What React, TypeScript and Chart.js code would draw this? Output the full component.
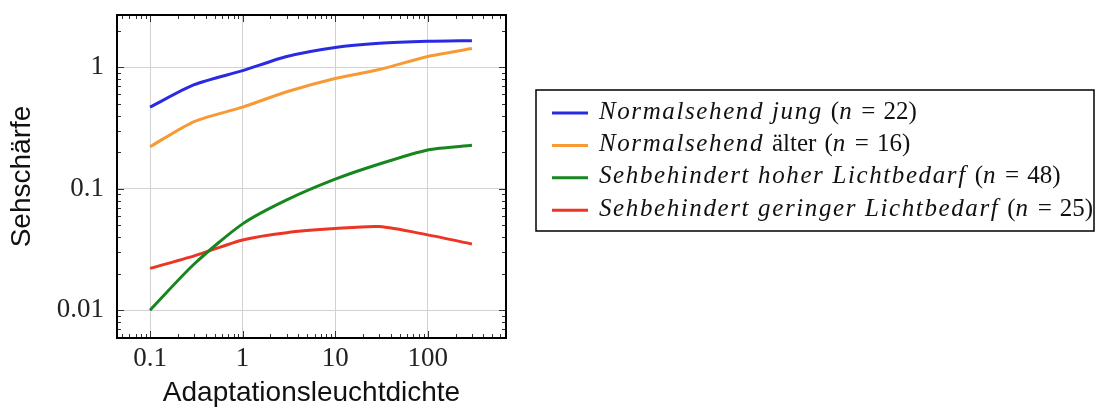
import React, { useEffect, useRef } from 'react';
import { Chart, registerables } from 'chart.js';

Chart.register(...registerables);

// ---- data ----
const luminance = [0.1, 0.3, 1, 3, 10, 30, 100, 300];
const seriesLabels = [
  'Normalsehend jung (n = 22)',
  'Normalsehend älter (n = 16)',
  'Sehbehindert hoher Lichtbedarf (n = 48)',
  'Sehbehindert geringer Lichtbedarf (n = 25)',
];
const normalJung = [0.47, 0.72, 0.94, 1.23, 1.46, 1.58, 1.64, 1.66];
const normalAelter = [0.222, 0.358, 0.47, 0.63, 0.81, 0.96, 1.23, 1.43];
const hoherLichtbedarf = [0.01, 0.024, 0.0514, 0.081, 0.12, 0.16, 0.209, 0.228];
const geringerLichtbedarf = [0.0221, 0.028, 0.0379, 0.0435, 0.047, 0.0488, 0.0417, 0.0351];
const seriesColors = ['#2a2ae4', '#f89a34', '#17861f', '#ec3523'];

const xTickValues = [0.1, 1, 10, 100];
const xTickLabels = ['0.1', '1', '10', '100'];
const yTickValues = [0.01, 0.1, 1];
const yTickLabels = ['0.01', '0.1', '1'];

const allSeries = [normalJung, normalAelter, hoherLichtbedarf, geringerLichtbedarf];

const tickFont = { family: '"Liberation Serif", serif', size: 27 };
const titleFont = { family: '"Liberation Sans", Arial, sans-serif', size: 28 };

function minorValues(min: number, max: number) {
  const out: { v: number; major: boolean }[] = [];
  for (let e = -4; e <= 4; e++) {
    for (let m = 1; m <= 9; m++) {
      const v = m * Math.pow(10, e);
      if (v >= min && v <= max) out.push({ v, major: m === 1 });
    }
  }
  return out;
}

const framePlugin = {
  id: 'frameTicks',
  afterDraw(chart: any) {
    const { ctx, chartArea: a, scales } = chart;
    const xs = scales.x;
    const ys = scales.y;
    ctx.save();
    ctx.strokeStyle = '#333';
    ctx.lineWidth = 1;
    ctx.beginPath();
    for (const t of minorValues(xs.min, xs.max)) {
      const px = Math.round(xs.getPixelForValue(t.v)) + 0.5;
      const len = t.major ? 7 : 4;
      ctx.moveTo(px, a.top);
      ctx.lineTo(px, a.top + len);
      ctx.moveTo(px, a.bottom);
      ctx.lineTo(px, a.bottom - len);
    }
    for (const t of minorValues(ys.min, ys.max)) {
      const py = Math.round(ys.getPixelForValue(t.v)) + 0.5;
      const len = t.major ? 7 : 4;
      ctx.moveTo(a.left, py);
      ctx.lineTo(a.left + len, py);
      ctx.moveTo(a.right, py);
      ctx.lineTo(a.right - len, py);
    }
    ctx.stroke();
    ctx.strokeStyle = '#000';
    ctx.lineWidth = 2;
    ctx.strokeRect(a.left, a.top, a.right - a.left, a.bottom - a.top);
    ctx.restore();
  },
};

function drawRuns(ctx: CanvasRenderingContext2D, text: string, x: number, y: number) {
  const tokens = text.match(/\s+|[()=0-9]+|[^\s()=0-9]+/g) || [];
  let cx = x;
  let inParen = false;
  for (const tok of tokens) {
    const italic = /^[A-Za-z]+$/.test(tok);
    if (tok.startsWith('(')) inParen = true;
    ctx.font = `${italic ? 'italic ' : ''}25px "Liberation Serif", serif`;
    (ctx as any).letterSpacing = italic ? '1.6px' : '0px';
    if (/^\s+$/.test(tok)) {
      cx += 8;
      continue;
    }
    ctx.fillText(tok, cx, y);
    cx += ctx.measureText(tok).width;
  }
  return inParen;
}

const legendPlugin = {
  id: 'boxLegend',
  afterDraw(chart: any) {
    const { ctx } = chart;
    const left = 536;
    const top = 90;
    const right = 1094;
    const bottom = 231;
    ctx.save();
    ctx.strokeStyle = '#000';
    ctx.lineWidth = 1.5;
    ctx.strokeRect(left, top, right - left, bottom - top);
    chart.data.datasets.forEach((ds: any, i: number) => {
      const cy = top + 23 + i * 32.4;
      ctx.strokeStyle = ds.borderColor;
      ctx.lineWidth = 3;
      ctx.beginPath();
      ctx.moveTo(552, cy);
      ctx.lineTo(588, cy);
      ctx.stroke();
      ctx.fillStyle = '#111';
      ctx.textBaseline = 'alphabetic';
      ctx.textAlign = 'left';
      drawRuns(ctx, ds.label, 599, cy + 5.5);
    });
    ctx.restore();
  },
};

export default function App() {
  const canvasRef = useRef<HTMLCanvasElement | null>(null);

  useEffect(() => {
    document.body.style.margin = '0';
    const canvas = canvasRef.current;
    if (!canvas) return;
    const chart = new Chart(canvas, {
      type: 'line',
      data: {
        datasets: allSeries.map((vals, i) => ({
          label: seriesLabels[i],
          data: luminance.map((x, j) => ({ x, y: vals[j] })),
          borderColor: seriesColors[i],
          backgroundColor: seriesColors[i],
          borderWidth: 3,
          pointRadius: 0,
          tension: 0.25,
          fill: false,
        })),
      },
      options: {
        animation: false,
        responsive: false,
        devicePixelRatio: 1,
        layout: { padding: { top: 15, right: 589, left: 0, bottom: 0 } },
        plugins: { legend: { display: false }, tooltip: { enabled: false } },
        scales: {
          x: {
            type: 'logarithmic',
            position: 'bottom',
            min: 0.044,
            max: 700,
            afterBuildTicks: (s: any) => {
              s.ticks = xTickValues.map((v) => ({ value: v }));
            },
            afterFit: (s: any) => {
              s.height = 73;
              s.paddingLeft = 0;
              s.paddingRight = 0;
            },
            ticks: {
              autoSkip: false,
              maxRotation: 0,
              padding: 5,
              font: tickFont,
              color: '#222',
              callback: (v: any) => {
                const i = xTickValues.indexOf(Number(v));
                return i >= 0 ? xTickLabels[i] : '';
              },
            },
            grid: { color: '#d2d2d2', lineWidth: 1, drawTicks: false },
            border: { display: false },
            title: {
              display: true,
              text: 'Adaptationsleuchtdichte',
              font: titleFont,
              color: '#111',
              padding: { top: 0, bottom: 1 },
            },
          },
          y: {
            type: 'logarithmic',
            position: 'left',
            min: 0.0059,
            max: 2.7,
            afterBuildTicks: (s: any) => {
              s.ticks = yTickValues.map((v) => ({ value: v }));
            },
            afterFit: (s: any) => {
              s.width = 117;
              s.paddingTop = 0;
              s.paddingBottom = 0;
            },
            ticks: {
              autoSkip: false,
              padding: 13,
              font: tickFont,
              color: '#222',
              callback: (v: any) => {
                const i = yTickValues.indexOf(Number(v));
                return i >= 0 ? yTickLabels[i] : '';
              },
            },
            grid: { color: '#d2d2d2', lineWidth: 1, drawTicks: false },
            border: { display: false },
            title: {
              display: true,
              text: 'Sehschärfe',
              font: titleFont,
              color: '#111',
              padding: { top: 5, bottom: 0 },
            },
          },
        },
      },
      plugins: [framePlugin, legendPlugin],
    } as any);
    return () => chart.destroy();
  }, []);

  return (
    <div style={{ position: 'absolute', left: 0, top: 0, width: 1095, height: 411, background: '#fff' }}>
      <canvas ref={canvasRef} width={1095} height={411} style={{ width: 1095, height: 411, display: 'block' }} />
    </div>
  );
}
